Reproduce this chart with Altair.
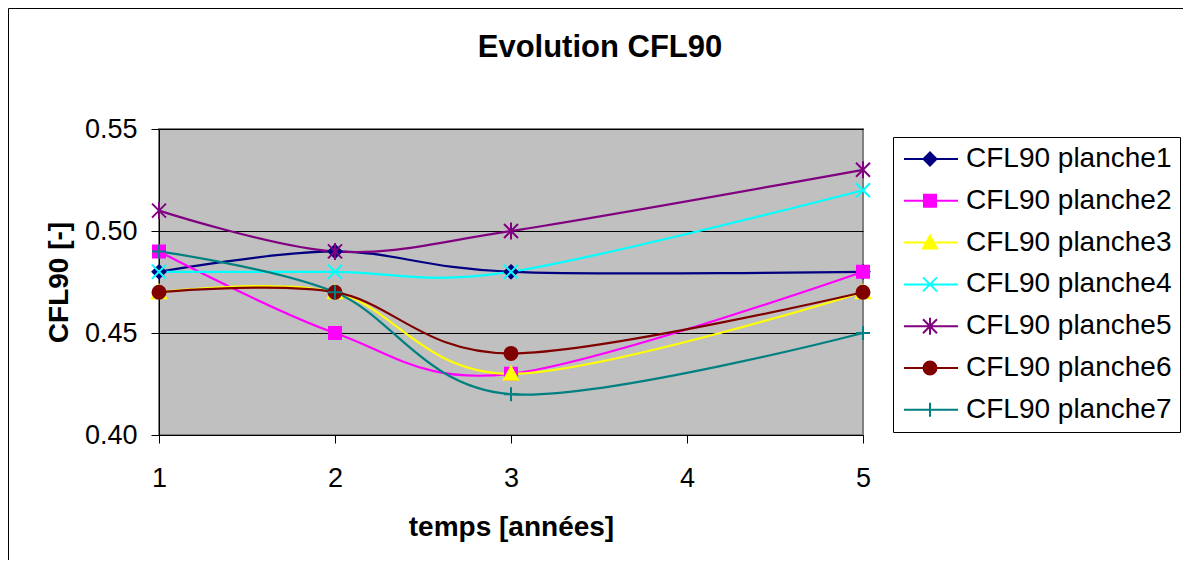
import math
import altair as alt
import pandas as pd

# ---------------- data ----------------
years = [1, 2, 3, 5]
series_names = [
    "CFL90 planche1", "CFL90 planche2", "CFL90 planche3", "CFL90 planche4",
    "CFL90 planche5", "CFL90 planche6", "CFL90 planche7",
]
planche1 = [0.48, 0.49, 0.48, 0.48]
planche2 = [0.49, 0.45, 0.43, 0.48]
planche3 = [0.47, 0.47, 0.43, 0.47]
planche4 = [0.48, 0.48, 0.48, 0.52]
planche5 = [0.51, 0.49, 0.50, 0.53]
planche6 = [0.47, 0.47, 0.44, 0.47]
planche7 = [0.49, 0.47, 0.42, 0.45]
x_ticks = [1, 2, 3, 4, 5]
y_ticks = [0.40, 0.45, 0.50, 0.55]

colors = ["#000080", "#FF00FF", "#FFFF00", "#00FFFF", "#800080", "#800000", "#008080"]

all_values = [planche1, planche2, planche3, planche4, planche5, planche6, planche7]
rows = []
for name, vals in zip(series_names, all_values):
    for x, v in zip(years, vals):
        rows.append({"serie": name, "annee": x, "cfl": v})
df = pd.DataFrame(rows)

# ---------------- marker shapes (pixel half-sizes) ----------------
markers = [
    ("poly", [(0, -6.5), (6.5, 0), (0, 6.5), (-6.5, 0)]),              # diamond
    ("poly", [(-6, -6), (6, -6), (6, 6), (-6, 6)]),                     # square
    ("poly", [(0, -7), (7, 6), (-7, 6)]),                               # triangle
    ("segs", [((-7, -7), (7, 7)), ((-7, 7), (7, -7))]),                 # x
    ("segs", [((-7, -7), (7, 7)), ((-7, 7), (7, -7)), ((0, -8.5), (0, 8.5))]),  # asterisk
    ("circle", 6.5),                                                    # circle
    ("segs", [((-7, 0), (7, 0)), ((0, -7), (0, 7))]),                   # plus
]


def f(v):
    return f"{v:.3f}".rstrip("0").rstrip(".")


def marker_path(m, unit, cx=0.0):
    kind, g = m
    if kind == "poly":
        pts = [((x + cx) / unit, y / unit) for x, y in g]
        return "M" + "L".join(f"{f(a)},{f(b)}" for a, b in pts) + "Z"
    if kind == "segs":
        return "".join(
            f"M{f((a[0] + cx) / unit)},{f(a[1] / unit)}L{f((b[0] + cx) / unit)},{f(b[1] / unit)}"
            for a, b in g
        )
    r = g / unit
    c = cx / unit
    return f"M{f(c + r)},0A{f(r)},{f(r)},0,1,1,{f(c - r)},0A{f(r)},{f(r)},0,1,1,{f(c + r)},0Z"


POINT_SIZE = 100
point_unit = math.sqrt(POINT_SIZE) / 2
point_paths = [marker_path(m, point_unit) for m in markers]

LEG_SIZE = 400
leg_unit = math.sqrt(LEG_SIZE) / 2
leg_line = f"M{f(-11 / leg_unit)},0L{f(43 / leg_unit)},0"
legend_paths = [leg_line + marker_path(m, leg_unit, cx=15) for m in markers]

FONT = "Liberation Sans"

# ---------------- encodings ----------------
x_enc = alt.X(
    "annee:Q",
    scale=alt.Scale(domain=[1, 5], nice=False, zero=False),
    axis=alt.Axis(
        values=x_ticks, format="d", title="temps [années]", labelFlush=False,
        labelPadding=22, titleX=352, titleY=100, titleBaseline="alphabetic",
        titleAlign="center", grid=False,
    ),
)
y_enc = alt.Y(
    "cfl:Q",
    scale=alt.Scale(domain=[0.40, 0.55], nice=False, zero=False),
    axis=alt.Axis(
        values=y_ticks, format=".2f", title="CFL90 [-]", labelPadding=14,
        titleX=-92, titleY=153, titleBaseline="alphabetic", titleAlign="center",
        titleAngle=270, grid=True, gridColor="black", gridWidth=1,
    ),
)
color_scale = alt.Scale(domain=series_names, range=colors)

frame = alt.Chart(pd.DataFrame({"k": [0]})).mark_rect(
    fillOpacity=0, stroke="black", strokeWidth=1
).encode(
    x=alt.value(-150.5), x2=alt.value(3000), y=alt.value(-120.5), y2=alt.value(3000)
)

lines = alt.Chart(df).mark_line(
    interpolate="cardinal", tension=0, strokeWidth=2.2
).encode(
    x=x_enc, y=y_enc,
    stroke=alt.Stroke("serie:N", scale=color_scale, legend=None),
)

points = alt.Chart(df).mark_point(
    filled=True, size=POINT_SIZE, strokeWidth=2, opacity=1
).encode(
    x=x_enc, y=y_enc,
    shape=alt.Shape("serie:N", scale=alt.Scale(domain=series_names, range=point_paths), legend=None),
    fill=alt.Fill("serie:N", scale=color_scale, legend=None),
    stroke=alt.Stroke("serie:N", scale=color_scale, legend=None),
)

leg = alt.Legend(
    title=None, orient="none", legendX=734, legendY=8, direction="vertical",
    labelFont=FONT, labelFontSize=28, labelColor="black", labelLimit=500,
    labelOffset=37, symbolSize=LEG_SIZE, symbolStrokeWidth=2, symbolOpacity=1,
    strokeColor="black", fillColor="white", padding=8, rowPadding=13.8,
    cornerRadius=0,
)
legend_layer = alt.Chart(df).mark_point(
    filled=True, size=LEG_SIZE, opacity=0
).encode(
    x=x_enc, y=y_enc,
    shape=alt.Shape("serie:N", scale=alt.Scale(domain=series_names, range=legend_paths), legend=leg),
    fill=alt.Fill("serie:N", scale=color_scale, legend=leg),
    stroke=alt.Stroke("serie:N", scale=color_scale, legend=leg),
)

chart = (
    alt.layer(frame, lines, points, legend_layer)
    .resolve_scale(shape="independent", fill="independent", stroke="independent")
    .properties(
        width=704,
        height=306,
        autosize=alt.AutoSizeParams(type="none"),
        padding={"left": 151, "top": 121, "right": 320, "bottom": 125},
        title=alt.Title(
            "Evolution CFL90", font=FONT, fontSize=31, fontWeight="bold", color="black",
            anchor="middle", frame="group", dx=89, offset=-80, baseline="alphabetic",
        ),
    )
    .configure(background="white")
    .configure_view(fill="#C0C0C0", stroke="#808080", strokeWidth=2)
    .configure_axis(
        labelFont=FONT, labelFontSize=27, labelColor="black",
        titleFont=FONT, titleFontSize=28, titleFontWeight="bold", titleColor="black",
        domainColor="black", domainWidth=1, tickColor="black", tickSize=8, tickWidth=1,
    )
)

chart.save("out.html", embed_options={"renderer": "svg", "actions": False})
